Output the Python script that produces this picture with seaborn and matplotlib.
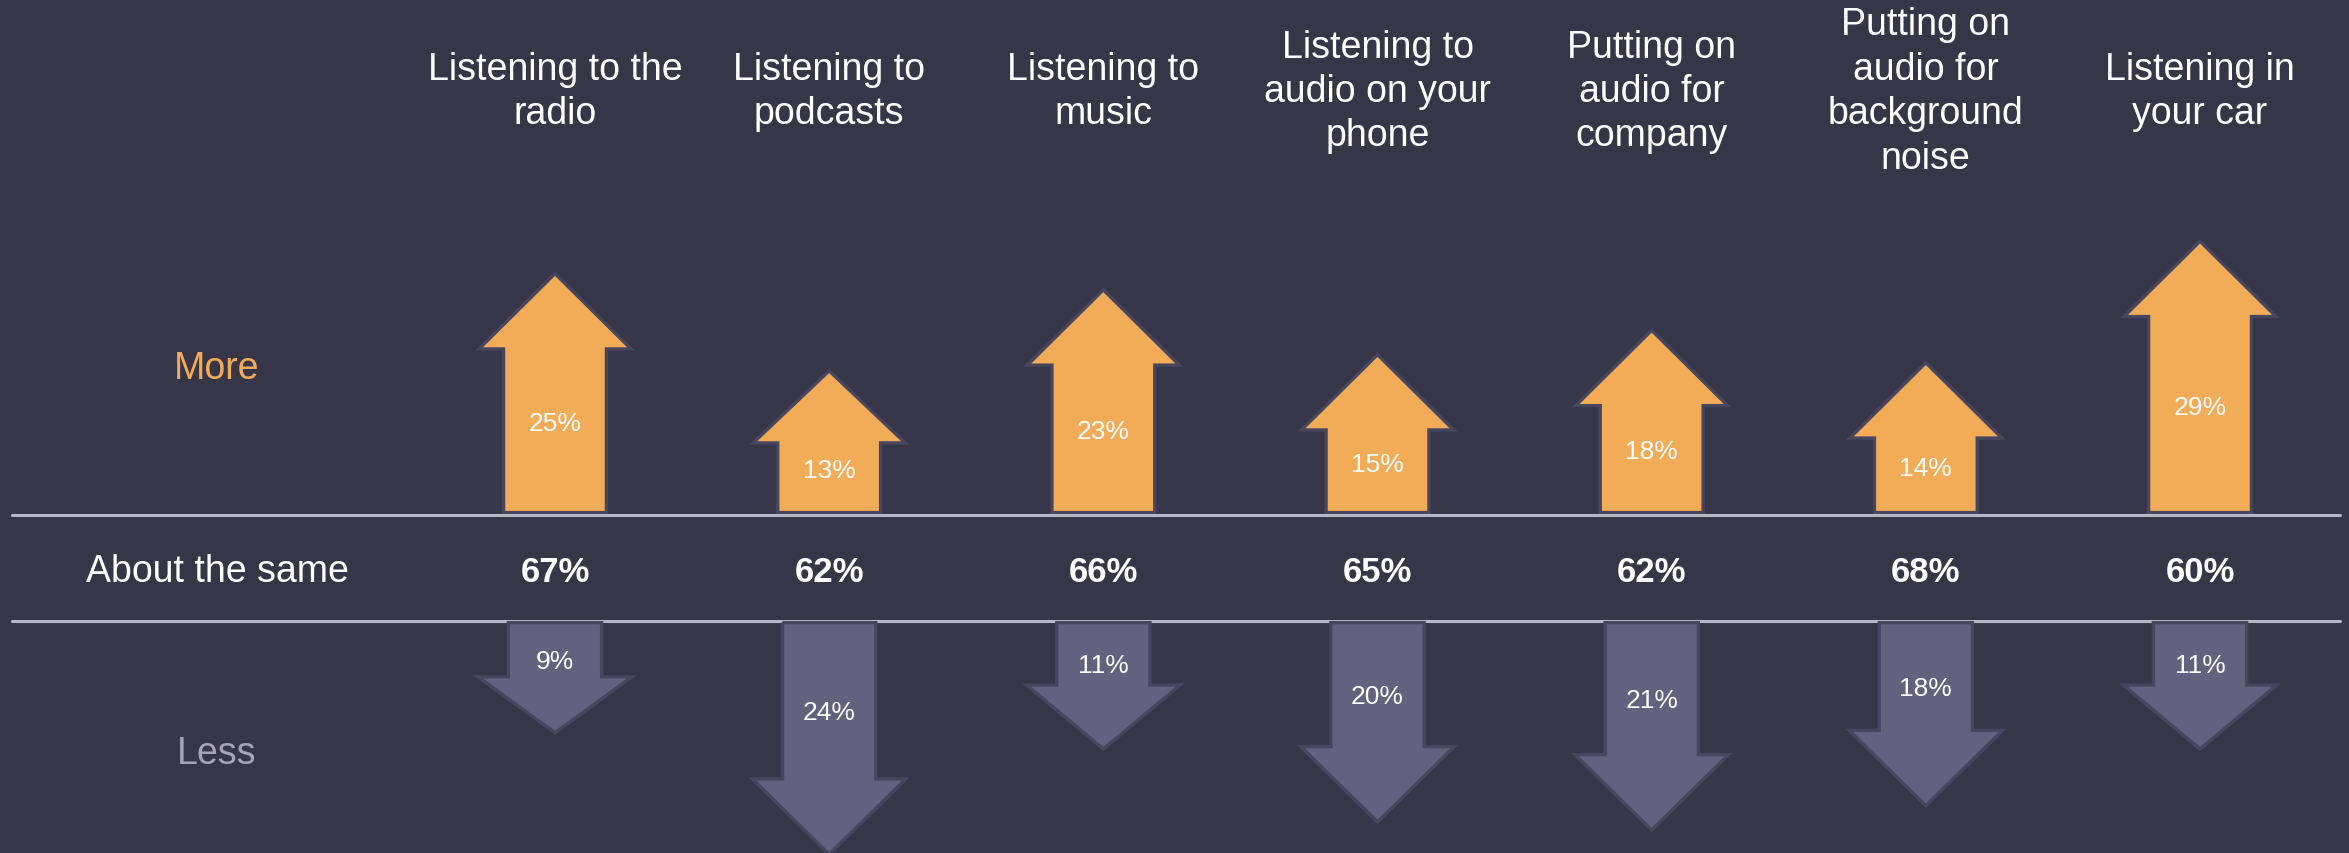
import matplotlib
matplotlib.use("Agg")
import matplotlib.pyplot as plt
from matplotlib.patches import Polygon
import seaborn as sns
import numpy as np

# ---- data ----
categories = ["Listening to the\nradio", "Listening to\npodcasts", "Listening to\nmusic",
              "Listening to\naudio on your\nphone", "Putting on\naudio for\ncompany",
              "Putting on\naudio for\nbackground\nnoise", "Listening in\nyour car"]
more_pct = [25, 13, 23, 15, 18, 14, 29]
same_pct = [67, 62, 66, 65, 62, 68, 60]
less_pct = [9, 24, 11, 20, 21, 18, 11]
row_labels = ["More", "About the same", "Less"]

# ---- style ----
BG = "#373548"
ORANGE = "#F2AC58"
PURPLE = "#62627E"
OUTLINE = "#47465F"
RULE = "#B9B7C7"
LESS_C = "#A6A4B4"

sns.set_theme(style="white")
plt.rcParams["font.family"] = ["Liberation Sans", "DejaVu Sans"]

W, H, DPI = 2349, 854, 100
fig = plt.figure(figsize=(W / DPI, H / DPI), dpi=DPI, facecolor=BG)

PX_PER_UNIT = 8.1          # vertical pixels per percentage unit
LINE_TOP = 516             # px from top
LINE_BOT = 622
ax_top = fig.add_axes([0, (H - LINE_TOP) / H, 1, LINE_TOP / H])
ax_bot = fig.add_axes([0, 0, 1, (H - LINE_BOT) / H])
XLIM = (-555 / 274.17, (W - 555) / 274.17)
for ax in (ax_top, ax_bot):
    ax.set_facecolor("none")

n = len(categories)
xs = np.arange(n)

def lengths(vals):
    L = np.asarray(vals, float) + 4.8
    hl = np.minimum(9.3, 0.5 * L)
    return L, hl, L - hl

# ---- up arrows ----
L_up, hl_up, s_up = lengths(more_pct)
SW_UP, HW_UP = 0.375, 0.555
sns.barplot(x=categories, y=s_up, color=ORANGE, saturation=1, width=SW_UP,
            linewidth=0, errorbar=None, ax=ax_top, zorder=2)
for x, L, s, v in zip(xs, L_up, s_up, more_pct):
    head = [(x - SW_UP / 2, s - 0.4), (x - SW_UP / 2, s), (x - HW_UP / 2, s), (x, L),
            (x + HW_UP / 2, s), (x + SW_UP / 2, s), (x + SW_UP / 2, s - 0.4)]
    ax_top.add_patch(Polygon(head, closed=True, facecolor=ORANGE, edgecolor="none", zorder=3))
    outline = [(x - SW_UP / 2, 0.3), (x - SW_UP / 2, s), (x - HW_UP / 2, s), (x, L),
               (x + HW_UP / 2, s), (x + SW_UP / 2, s), (x + SW_UP / 2, 0.3)]
    ax_top.add_patch(Polygon(outline, closed=True, fill=False, edgecolor=OUTLINE,
                             linewidth=2.4, joinstyle="miter", zorder=4))
    ax_top.text(x, s / 2 + 1.1, f"{v}%", color="white", fontsize=19,
                ha="center", va="center", zorder=5)

# ---- down arrows ----
L_dn, hl_dn, s_dn = lengths(less_pct)
SW_DN, HW_DN = 0.34, 0.56
sns.barplot(x=categories, y=-s_dn, color=PURPLE, saturation=1, width=SW_DN,
            linewidth=0, errorbar=None, ax=ax_bot, zorder=2)
for x, L, s, v in zip(xs, L_dn, s_dn, less_pct):
    head = [(x - SW_DN / 2, -s + 0.4), (x - SW_DN / 2, -s), (x - HW_DN / 2, -s), (x, -L),
            (x + HW_DN / 2, -s), (x + SW_DN / 2, -s), (x + SW_DN / 2, -s + 0.4)]
    ax_bot.add_patch(Polygon(head, closed=True, facecolor=PURPLE, edgecolor="none", zorder=3))
    outline = [(x - SW_DN / 2, -0.2), (x - SW_DN / 2, -s), (x - HW_DN / 2, -s), (x, -L),
               (x + HW_DN / 2, -s), (x + SW_DN / 2, -s), (x + SW_DN / 2, -0.2)]
    ax_bot.add_patch(Polygon(outline, closed=True, fill=False, edgecolor=OUTLINE,
                             linewidth=2.4, joinstyle="miter", zorder=4, clip_on=False))
    ax_bot.text(x, -s / 2 - 1.5, f"{v}%", color="white", fontsize=19,
                ha="center", va="center", zorder=5)

# ---- axes cleanup ----
for ax in (ax_top, ax_bot):
    ax.set_xlim(*XLIM)
    ax.set_axis_off()
ax_top.set_ylim(0, LINE_TOP / PX_PER_UNIT)
ax_bot.set_ylim(-(H - LINE_BOT) / PX_PER_UNIT, 0)

# rules
ax_top.axhline(0, xmin=12 / W, xmax=2340 / W, color=RULE, linewidth=2.2, zorder=6, clip_on=False)
ax_bot.axhline(0, xmin=12 / W, xmax=2340 / W, color=RULE, linewidth=2.2, zorder=1, clip_on=False)

# ---- column titles ----
title_y = (LINE_TOP - 92) / PX_PER_UNIT
for x, t in zip(xs, categories):
    ax_top.text(x, title_y, t, color="white", fontsize=27, ha="center", va="center",
                linespacing=1.3, multialignment="center")

# ---- middle row ----
mid_y = -(572 - LINE_TOP) / PX_PER_UNIT
for x, v in zip(xs, same_pct):
    ax_top.text(x, mid_y, f"{v}%", color="white", fontsize=25, fontweight="bold",
                ha="center", va="center", clip_on=False)

label_x = (217 - 555) / 274.17
ax_top.text(label_x, (LINE_TOP - 369) / PX_PER_UNIT, row_labels[0], color=ORANGE,
            fontsize=27, ha="center", va="center")
ax_top.text(label_x, mid_y, row_labels[1], color="white", fontsize=27,
            ha="center", va="center", clip_on=False)
ax_bot.text(label_x, -(754 - LINE_BOT) / PX_PER_UNIT, row_labels[2], color=LESS_C,
            fontsize=27, ha="center", va="center")

fig.savefig("out.png", dpi=DPI, facecolor=BG)
